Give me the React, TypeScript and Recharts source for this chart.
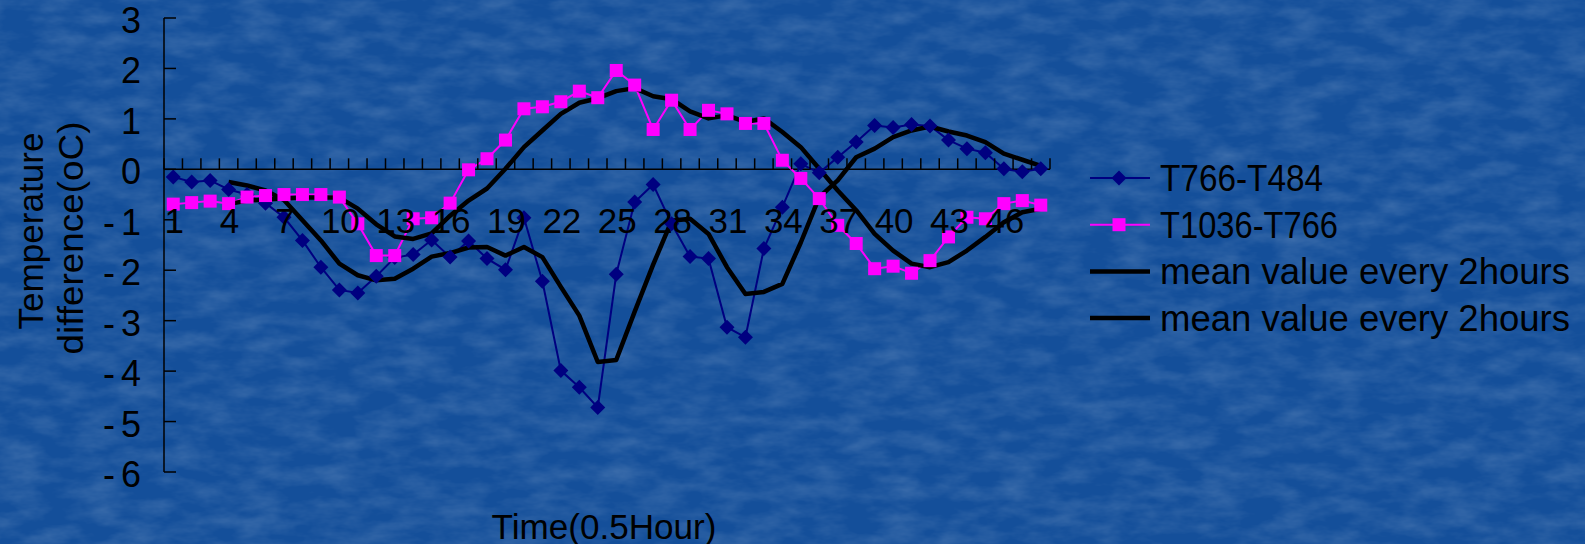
import { LineChart, Line, XAxis, YAxis, ReferenceLine, Legend } from "recharts";

// Half-hour steps along the x axis
const categories = [
  1, 2, 3, 4, 5, 6, 7, 8, 9, 10, 11, 12, 13, 14, 15, 16, 17, 18, 19, 20, 21, 22, 23, 24,
  25, 26, 27, 28, 29, 30, 31, 32, 33, 34, 35, 36, 37, 38, 39, 40, 41, 42, 43, 44, 45, 46, 47, 48,
];

// T766-T484 (navy diamonds)
const t766_484 = [
  -0.15, -0.25, -0.22, -0.4, -0.5, -0.67, -0.95, -1.41, -1.94, -2.39, -2.45, -2.12,
  -1.75, -1.69, -1.4, -1.74, -1.42, -1.77, -1.99, -0.96, -2.22, -3.99, -4.32, -4.72,
  -2.08, -0.65, -0.3, -1.08, -1.73, -1.77, -3.13, -3.33, -1.57, -0.75, 0.11, -0.07,
  0.24, 0.54, 0.87, 0.83, 0.89, 0.86, 0.58, 0.41, 0.33, 0.01, -0.05, 0.01,
];

// T1036-T766 (magenta squares)
const t1036_766 = [
  -0.69, -0.66, -0.63, -0.68, -0.55, -0.52, -0.5, -0.5, -0.5, -0.55, -1.08, -1.71,
  -1.71, -0.98, -0.96, -0.67, -0.01, 0.21, 0.58, 1.2, 1.24, 1.34, 1.55, 1.42,
  1.96, 1.67, 0.79, 1.37, 0.79, 1.17, 1.1, 0.91, 0.91, 0.18, -0.18, -0.58,
  -1.11, -1.47, -1.97, -1.92, -2.06, -1.81, -1.34, -0.95, -0.98, -0.68, -0.62, -0.71,
];

// 2-hour means, first three steps have no value
const mean766 = [
  null, null, null, -0.25, -0.32, -0.42, -0.61, -1.01, -1.41, -1.87, -2.1, -2.2,
  -2.17, -1.97, -1.73, -1.66, -1.55, -1.54, -1.71, -1.54, -1.74, -2.33, -2.9, -3.82,
  -3.78, -2.82, -1.89, -1.02, -0.98, -1.28, -1.94, -2.47, -2.43, -2.27, -1.45, -0.55,
  -0.22, 0.24, 0.41, 0.64, 0.77, 0.85, 0.75, 0.67, 0.54, 0.31, 0.19, 0.07,
];
const mean1036 = [
  null, null, null, -0.69, -0.62, -0.6, -0.58, -0.56, -0.56, -0.56, -0.78, -1.09,
  -1.33, -1.38, -1.27, -0.92, -0.62, -0.38, 0.01, 0.44, 0.77, 1.1, 1.32, 1.41,
  1.55, 1.61, 1.45, 1.39, 1.15, 1.01, 1.07, 0.94, 1.01, 0.74, 0.44, 0.01,
  -0.42, -0.81, -1.28, -1.61, -1.87, -1.94, -1.84, -1.61, -1.34, -1.05, -0.85, -0.78,
];

const yTicks = [3, 2, 1, 0, -1, -2, -3, -4, -5, -6];

// legend order as in the original
const legendOrder = ["a", "b", "m1", "m2"];

const data = categories.map((t, i) => ({
  t,
  a: t766_484[i],
  b: t1036_766[i],
  m1: mean766[i],
  m2: mean1036[i],
}));

const FONT = '"Liberation Sans", Arial, sans-serif';
const W = 1585;
const H = 544;
const TOP = 18;
const BOTTOM = 472;
const LEFT = 164;
const RIGHT = 1050;
const Y_MIN = -6;
const Y_MAX = 3;
const BAND = (RIGHT - LEFT) / categories.length;
const ZERO_Y = TOP + ((BOTTOM - TOP) * Y_MAX) / (Y_MAX - Y_MIN);
const NAVY = "#000080";
const MAGENTA = "#ff00ff";

function Diamond({ cx, cy }: any) {
  if (cx == null || cy == null) return null;
  const r = 7.5;
  return <polygon points={`${cx},${cy - r} ${cx + r},${cy} ${cx},${cy + r} ${cx - r},${cy}`} fill={NAVY} />;
}

function Square({ cx, cy }: any) {
  if (cx == null || cy == null) return null;
  return <rect x={cx - 6.5} y={cy - 6.5} width={13} height={13} fill={MAGENTA} />;
}

// Axis crosses at 0: tick marks above the line, labels every 3rd step below it
function XTick({ x, index, payload }: any) {
  const last = index === categories.length - 1;
  return (
    <g>
      <line x1={x - BAND / 2} x2={x - BAND / 2} y1={ZERO_Y - 11} y2={ZERO_Y} stroke="#000" strokeWidth={1.5} />
      {last && <line x1={x + BAND / 2} x2={x + BAND / 2} y1={ZERO_Y - 11} y2={ZERO_Y} stroke="#000" strokeWidth={1.5} />}
      {index % 3 === 0 && (
        <text x={x + 1} y={ZERO_Y + 64} textAnchor="middle" fontSize={35} fontFamily={FONT} fill="#000">
          {payload.value}
        </text>
      )}
    </g>
  );
}

function YTick({ y, payload }: any) {
  const v = payload.value;
  return (
    <g>
      <line x1={LEFT} x2={LEFT + 12} y1={y} y2={y} stroke="#000" strokeWidth={1.5} />
      <text x={LEFT - 23} y={y + 15} textAnchor="end" fontSize={36} fontFamily={FONT} fill="#000">
        {v < 0 ? (
          <>
            <tspan>-</tspan>
            <tspan dx={6}>{Math.abs(v)}</tspan>
          </>
        ) : (
          v
        )}
      </text>
    </g>
  );
}

const legendTextLen = [163, 178, 410, 410];

function LegendBox({ payload }: any) {
  const items = [...(payload || [])].sort(
    (p: any, q: any) => legendOrder.indexOf(p.dataKey) - legendOrder.indexOf(q.dataKey)
  );
  return (
    <svg width={505} height={200}>
      {items.map((item: any, i: number) => {
        const y = 28 + i * 46.7;
        const isMean = item.dataKey === "m1" || item.dataKey === "m2";
        const color = item.dataKey === "a" ? NAVY : item.dataKey === "b" ? MAGENTA : "#000";
        return (
          <g key={i}>
            <line x1={10} x2={70} y1={y} y2={y} stroke={color} strokeWidth={isMean ? 4.5 : 2} />
            {item.dataKey === "a" && <Diamond cx={39} cy={y} />}
            {item.dataKey === "b" && <Square cx={39} cy={y} />}
            <text
              x={80}
              y={y + 13}
              fontSize={36}
              fontFamily={FONT}
              fill="#000"
              textLength={legendTextLen[i]}
              lengthAdjust="spacingAndGlyphs"
            >
              {item.value}
            </text>
          </g>
        );
      })}
    </svg>
  );
}

export default function App() {
  return (
    <div style={{ position: "absolute", left: 0, top: 0, width: W, height: H, background: "#14509c", overflow: "hidden" }}>
      <svg width={W} height={H} style={{ position: "absolute", left: 0, top: 0 }}>
        <filter id="tex">
          <feTurbulence type="fractalNoise" baseFrequency="0.025 0.06" numOctaves={4} seed={11} />
          <feColorMatrix type="matrix" values="0 0 0 0 1  0 0 0 0 1  0 0 0 0 1  0 0 0 0.26 -0.09" />
        </filter>
        <rect width={W} height={H} fill="#144f9a" />
        <rect width={W} height={H} filter="url(#tex)" />
      </svg>
      <LineChart width={W} height={H} data={data} margin={{ top: TOP, right: W - RIGHT, bottom: H - BOTTOM - 1, left: 0 }}>
        <YAxis
          type="number"
          domain={[Y_MIN, Y_MAX]}
          ticks={yTicks}
          width={LEFT}
          axisLine={{ stroke: "#000", strokeWidth: 1.5 }}
          tickLine={false}
          tick={YTick}
          allowDataOverflow
        />
        <ReferenceLine y={0} stroke="#000" strokeWidth={1.5} />
        <Line
          dataKey="a"
          name="T766-T484"
          type="linear"
          stroke={NAVY}
          strokeWidth={2}
          dot={Diamond}
          activeDot={false}
          isAnimationActive={false}
        />
        <Line
          dataKey="b"
          name="T1036-T766"
          type="linear"
          stroke={MAGENTA}
          strokeWidth={2}
          dot={Square}
          activeDot={false}
          isAnimationActive={false}
        />
        <Line
          dataKey="m1"
          name="mean value every 2hours"
          type="linear"
          stroke="#000"
          strokeWidth={4.5}
          strokeLinejoin="round"
          dot={false}
          activeDot={false}
          isAnimationActive={false}
        />
        <Line
          dataKey="m2"
          name="mean value every 2hours"
          type="linear"
          stroke="#000"
          strokeWidth={4.5}
          strokeLinejoin="round"
          dot={false}
          activeDot={false}
          isAnimationActive={false}
        />
        <XAxis
          dataKey="t"
          interval={0}
          height={1}
          padding={{ left: BAND / 2, right: BAND / 2 }}
          axisLine={false}
          tickLine={false}
          tick={XTick}
        />
        <Legend
          layout="vertical"
          align="center"
          verticalAlign="middle"
          wrapperStyle={{ left: 1080, top: 150, width: 505, height: 200 }}
          content={LegendBox}
        />
      </LineChart>
      <svg width={W} height={H} style={{ position: "absolute", left: 0, top: 0, pointerEvents: "none" }}>
        <g fontFamily={FONT} fontSize={35} fill="#000">
          <text
            transform="translate(30,231) rotate(-90)"
            textAnchor="middle"
            dominantBaseline="central"
            textLength={197}
            lengthAdjust="spacingAndGlyphs"
          >
            Temperature
          </text>
          <text
            transform="translate(70,238) rotate(-90)"
            textAnchor="middle"
            dominantBaseline="central"
            textLength={233}
            lengthAdjust="spacingAndGlyphs"
          >
            difference(oC)
          </text>
          <text x={604} y={526} textAnchor="middle" dominantBaseline="central" textLength={225} lengthAdjust="spacingAndGlyphs">
            Time(0.5Hour)
          </text>
        </g>
      </svg>
    </div>
  );
}
